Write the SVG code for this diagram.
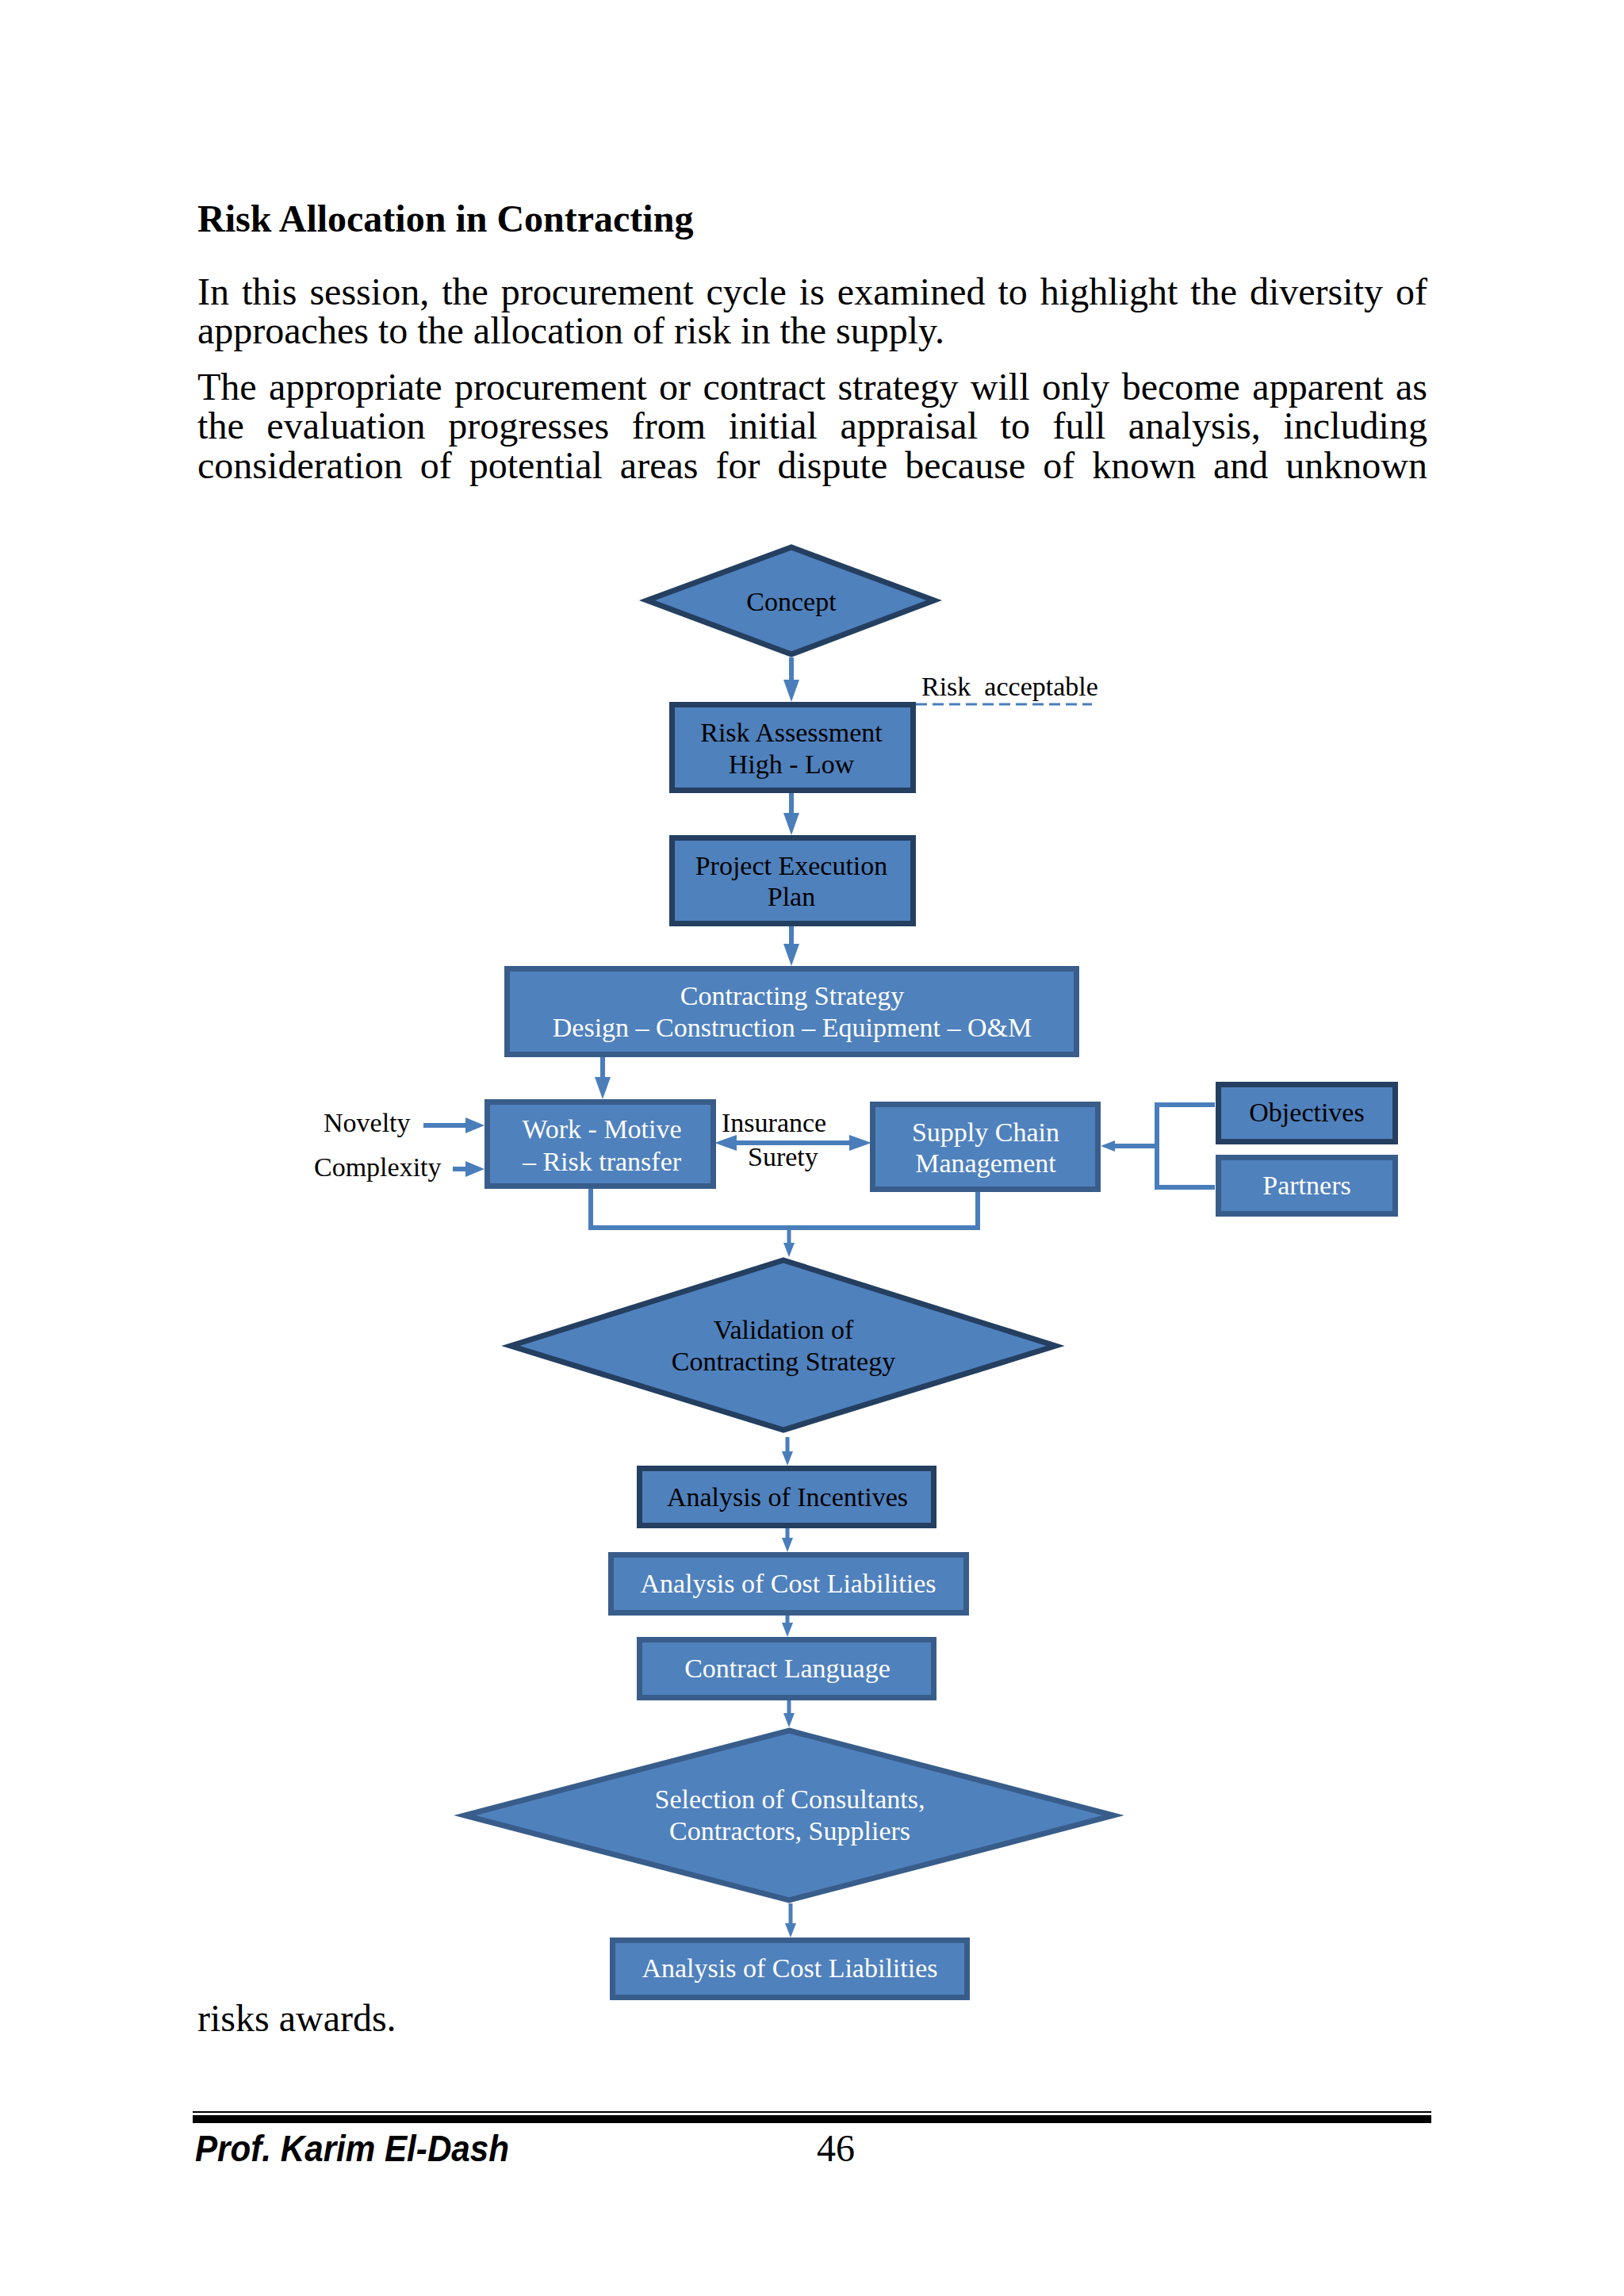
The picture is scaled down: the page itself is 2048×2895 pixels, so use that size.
<svg xmlns="http://www.w3.org/2000/svg" width="2048" height="2895" viewBox="0 0 2048 2895">
<style>
.body{font-family:"Liberation Serif","Times New Roman",serif;font-size:48px;fill:#000}
.t{font-family:"Liberation Serif","Times New Roman",serif;font-size:34px;text-anchor:middle}
.lbl{font-family:"Liberation Serif","Times New Roman",serif;font-size:34px;fill:#000}
.dk{fill:#4F81BD;stroke:#243F60;stroke-width:7;stroke-linejoin:miter;stroke-miterlimit:20}
.lt{fill:#4F81BD;stroke:#385D8A;stroke-width:7;stroke-linejoin:miter;stroke-miterlimit:20}
.tb{fill:#000}
.tw{fill:#fff}
.c{fill:none;stroke:#4A7EBB;stroke-width:6}
.cs{fill:none;stroke:#4A7EBB;stroke-width:5}
</style>
<defs>
<marker id="big" markerUnits="userSpaceOnUse" markerWidth="30" markerHeight="22" refX="0" refY="10" orient="auto-start-reverse" overflow="visible">
<path d="M0,0 L28,10 L0,20 z" fill="#4A7EBB"/>
</marker>
<marker id="med" markerUnits="userSpaceOnUse" markerWidth="26" markerHeight="22" refX="0" refY="10" orient="auto-start-reverse" overflow="visible">
<path d="M0,0 L24,10 L0,20 z" fill="#4A7EBB"/>
</marker>
<marker id="sm" markerUnits="userSpaceOnUse" markerWidth="20" markerHeight="16" refX="0" refY="7" orient="auto-start-reverse" overflow="visible">
<path d="M0,0 L18,7 L0,14 z" fill="#4A7EBB"/>
</marker>
</defs>
<rect width="2048" height="2895" fill="#fff"/>

<g id="page-text">
<text class="body" x="249" y="292" font-weight="bold">Risk Allocation in Contracting</text>
<text class="body" x="249" y="384" word-spacing="4" textLength="1551" lengthAdjust="spacing">In this session, the procurement cycle is examined to highlight the diversity of</text>
<text class="body" x="249" y="433">approaches to the allocation of risk in the supply.</text>
<text class="body" x="249" y="504" word-spacing="3.4" textLength="1551" lengthAdjust="spacing">The appropriate procurement or contract strategy will only become apparent as</text>
<text class="body" x="249" y="553" word-spacing="16.5" textLength="1551" lengthAdjust="spacing">the evaluation progresses from initial appraisal to full analysis, including</text>
<text class="body" x="249" y="603" word-spacing="10" textLength="1551" lengthAdjust="spacing">consideration of potential areas for dispute because of known and unknown</text>
<text class="body" x="249" y="2561">risks awards.</text>
</g>

<g id="footer">
<rect x="243" y="2662" width="1562" height="2" fill="#000"/>
<rect x="243" y="2667" width="1562" height="10" fill="#000"/>
<text x="246" y="2725" font-family="'Liberation Sans',Arial,sans-serif" font-size="46" font-weight="bold" font-style="italic" textLength="396" lengthAdjust="spacingAndGlyphs">Prof. Karim El-Dash</text>
<text class="body" x="1030" y="2725">46</text>
</g>

<g id="connectors">
<line class="c" x1="998" y1="829" x2="998" y2="857" marker-end="url(#big)"/>
<line class="c" x1="998" y1="1000" x2="998" y2="1025" marker-end="url(#big)"/>
<line class="c" x1="998" y1="1168" x2="998" y2="1190" marker-end="url(#big)"/>
<line class="c" x1="760" y1="1333" x2="760" y2="1358" marker-end="url(#big)"/>
<line class="c" x1="534" y1="1419" x2="587" y2="1419" marker-end="url(#med)"/>
<line class="c" x1="571" y1="1474" x2="587" y2="1474" marker-end="url(#med)"/>
<line class="c" x1="929" y1="1441" x2="1071" y2="1441" marker-start="url(#big)" marker-end="url(#big)"/>
<path class="c" d="M1532,1393 H1459 V1497 H1532"/>
<line class="c" x1="1459" y1="1445" x2="1406" y2="1445" marker-end="url(#sm)"/>
<path class="c" d="M745,1499 V1548 H1233 V1503"/>
<line class="cs" x1="995" y1="1548" x2="995" y2="1567" marker-end="url(#sm)"/>
<line class="cs" x1="993" y1="1812" x2="993" y2="1830" marker-end="url(#sm)"/>
<line class="cs" x1="993" y1="1927" x2="993" y2="1939" marker-end="url(#sm)"/>
<line class="cs" x1="993" y1="2037" x2="993" y2="2046" marker-end="url(#sm)"/>
<line class="cs" x1="995" y1="2144" x2="995" y2="2160" marker-end="url(#sm)"/>
<line class="cs" x1="997" y1="2400" x2="997" y2="2425" marker-end="url(#sm)"/>
<line x1="1155" y1="888" x2="1377" y2="888" stroke="#4A7EBB" stroke-width="3" stroke-dasharray="14,7"/>
</g>

<g id="labels">
<text class="lbl" x="1162" y="877" xml:space="preserve">Risk  acceptable</text>
<text class="lbl" x="408" y="1427">Novelty</text>
<text class="lbl" x="396" y="1483">Complexity</text>
<text class="lbl" x="910" y="1427">Insurance</text>
<text class="lbl" x="943" y="1470">Surety</text>
</g>

<g id="concept">
<polygon class="dk" points="998,690 1178,757 998,825 816,757"/>
<text class="t tb" x="998" y="770">Concept</text>
</g>
<g id="risk-assessment">
<rect class="dk" x="847.5" y="888.5" width="304" height="108"/>
<text class="t tb" x="998" y="935">Risk Assessment</text>
<text class="t tb" x="998" y="975">High - Low</text>
</g>
<g id="project-execution-plan">
<rect class="dk" x="847.5" y="1056.5" width="304" height="108"/>
<text class="t tb" x="998" y="1103">Project Execution</text>
<text class="t tb" x="998" y="1142">Plan</text>
</g>
<g id="contracting-strategy">
<rect class="lt" x="639.5" y="1221.5" width="718" height="108"/>
<text class="t tw" x="999" y="1267">Contracting Strategy</text>
<text class="t tw" x="999" y="1307">Design – Construction – Equipment – O&amp;M</text>
</g>
<g id="work-motive">
<rect class="lt" x="614.5" y="1389.5" width="285" height="106"/>
<text class="t tw" x="759" y="1435">Work - Motive</text>
<text class="t tw" x="759" y="1476">– Risk transfer</text>
</g>
<g id="supply-chain">
<rect class="lt" x="1100.5" y="1392.5" width="284" height="107"/>
<text class="t tw" x="1243" y="1439">Supply Chain</text>
<text class="t tw" x="1243" y="1478">Management</text>
</g>
<g id="objectives">
<rect class="dk" x="1536.5" y="1367.5" width="223" height="72"/>
<text class="t tb" x="1648" y="1414">Objectives</text>
</g>
<g id="partners">
<rect class="lt" x="1536.5" y="1459.5" width="223" height="71"/>
<text class="t tw" x="1648" y="1506">Partners</text>
</g>
<g id="validation">
<polygon class="dk" points="988,1589 1331,1697 988,1803 644,1697"/>
<text class="t tb" x="988" y="1688">Validation of</text>
<text class="t tb" x="988" y="1728">Contracting Strategy</text>
</g>
<g id="analysis-incentives">
<rect class="dk" x="806.5" y="1851.5" width="371" height="72"/>
<text class="t tb" x="993" y="1899">Analysis of Incentives</text>
</g>
<g id="analysis-cost-1">
<rect class="lt" x="770.5" y="1960.5" width="448" height="73"/>
<text class="t tw" x="994" y="2008">Analysis of Cost Liabilities</text>
</g>
<g id="contract-language">
<rect class="lt" x="806.5" y="2067.5" width="371" height="73"/>
<text class="t tw" x="993" y="2115">Contract Language</text>
</g>
<g id="selection">
<polygon class="lt" points="995,2182 1404,2289 995,2396 586,2289"/>
<text class="t tw" x="996" y="2280">Selection of Consultants,</text>
<text class="t tw" x="996" y="2320">Contractors, Suppliers</text>
</g>
<g id="analysis-cost-2">
<rect class="lt" x="772.5" y="2446.5" width="447" height="72"/>
<text class="t tw" x="996" y="2493">Analysis of Cost Liabilities</text>
</g>
</svg>
